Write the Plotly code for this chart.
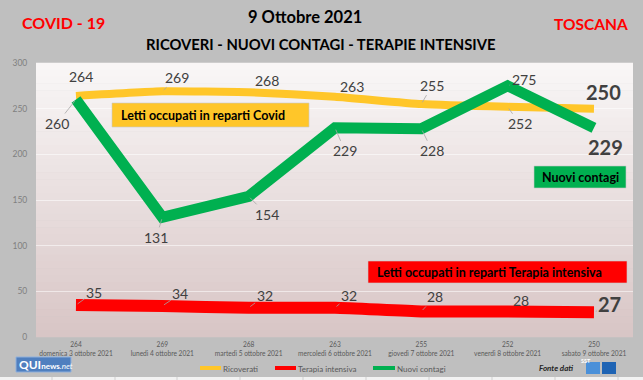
import plotly.graph_objects as go

# ---------------- data ----------------
dates = ["domenica 3 ottobre 2021", "lunedì 4 ottobre 2021", "martedì 5 ottobre 2021",
         "mercoledì 6 ottobre 2021", "giovedì 7 ottobre 2021", "venerdì 8 ottobre 2021",
         "sabato 9 ottobre 2021"]
ricoverati = [264, 269, 268, 263, 255, 252, 250]
terapia_intensiva = [35, 34, 32, 32, 28, 28, 27]
nuovi_contagi = [260, 131, 154, 229, 228, 275, 229]
y_ticks = [0, 50, 100, 150, 200, 250, 300]

# label offsets (px) relative to each point: (dx, dy, leader)
lab_ric = [(5, -19, False), (15, -14, True), (18, -12, False), (17, -10, False),
           (11, -19, True), (12, 17, True), (10, -17, False)]
lab_con = [(-19, 24, True), (-6, 20, True), (18, 18, True), (10, 23, True),
           (11, 22, True), (16, -6, True), (12, 19, False)]
lab_ter = [(18, -13, True), (18, -12, True), (16, -12, True), (14, -12, True),
           (14, -15, True), (13, -11, False), (16, -8, True)]

# ---------------- geometry helpers ----------------
W, H = 643, 380
PL, PR, PT, PB = 36, 633, 63, 337


def fx(x):
    return (x - PL) / (PR - PL)


def fy(y):
    return (PB - y) / (PB - PT)


FONT = "Lato"
YEL, RED, GRN = "#ffc629", "#ff0000", "#00b050"
xs = list(range(len(dates)))

fig = go.Figure()
fig.add_trace(go.Scatter(x=xs, y=ricoverati, mode="lines", name="Ricoverati",
                         line=dict(color=YEL, width=8, shape="spline", smoothing=0.4)))
fig.add_trace(go.Scatter(x=xs, y=terapia_intensiva, mode="lines", name="Terapia intensiva",
                         line=dict(color=RED, width=12, shape="spline", smoothing=0.5)))
fig.add_trace(go.Scatter(x=xs, y=nuovi_contagi, mode="lines", name="Nuovi contagi",
                         line=dict(color=GRN, width=11)))

shapes = []
ann = []

# gradient plot-area background
N = 40
top = (249, 247, 247)
bot = (216, 197, 197)
for i in range(N):
    t = (i + 0.5) / N
    c = tuple(round(top[k] + (bot[k] - top[k]) * t) for k in range(3))
    shapes.append(dict(type="rect", xref="paper", yref="paper", x0=0, x1=1,
                       y0=1 - (i + 1) / N - 0.001, y1=1 - i / N + 0.001,
                       fillcolor="rgb(%d,%d,%d)" % c, line=dict(width=0), layer="below"))

# data labels
def add_labels(vals, offs, big_last):
    for i, (v, (dx, dy, lead)) in enumerate(zip(vals, offs)):
        last = big_last and i == len(vals) - 1
        ann.append(dict(x=i, y=v, xref="x", yref="y", text=str(v),
                        showarrow=True, ax=dx, ay=dy, axref="pixel", ayref="pixel",
                        arrowhead=0, arrowwidth=0.8, standoff=2,
                        arrowcolor="#a6a6a6" if lead else "rgba(0,0,0,0)",
                        font=dict(family=FONT, size=20 if last else 14,
                                  color="#404040", weight="bold" if last else "normal")))


add_labels(ricoverati, lab_ric, True)
add_labels(nuovi_contagi, lab_con, True)
add_labels(terapia_intensiva, lab_ter, True)

# boxed captions
def caption(x0, x1, y0, y1, color, text, tx=None, anchor="center"):
    shapes.append(dict(type="rect", xref="paper", yref="paper", x0=fx(x0), x1=fx(x1),
                       y0=fy(y1), y1=fy(y0), fillcolor=color,
                       line=dict(color="rgba(200,200,200,0.6)", width=1), layer="above"))
    ann.append(dict(x=fx(tx if tx is not None else (x0 + x1) / 2), y=fy((y0 + y1) / 2),
                    xref="paper", yref="paper", text=text, showarrow=False,
                    xanchor=anchor, yanchor="middle",
                    font=dict(family=FONT, size=12.5, color="#000000", weight="bold")))


caption(112, 309, 103, 127, YEL, "Letti occupati in reparti Covid", tx=119, anchor="left")
caption(534, 626, 166, 188, GRN, "Nuovi contagi")
caption(368, 627, 261, 283, RED, "Letti occupati in reparti Terapia intensiva", tx=375, anchor="left")

# titles
def text(x, y, s, size, color, weight="bold", anchor="center", style="normal", family=FONT):
    ann.append(dict(x=fx(x), y=fy(y), xref="paper", yref="paper", text=s, showarrow=False,
                    xanchor=anchor, yanchor="middle",
                    font=dict(family=family, size=size, color=color, weight=weight, style=style)))


text(305, 17, "9 Ottobre 2021", 16.5, "#000000")
text(321, 44, "RICOVERI - NUOVI CONTAGI - TERAPIE INTENSIVE", 14.8, "#000000")
text(63, 22, "COVID - 19", 16, "#ff0000")
text(591, 24, "TOSCANA", 15.5, "#ff0000")

# custom legend
leg = [(200, 221, YEL, "Ricoverati"), (275, 296, RED, "Terapia intensiva"),
       (373, 395, GRN, "Nuovi contagi")]
for x0, x1, c, s in leg:
    shapes.append(dict(type="line", xref="paper", yref="paper", x0=fx(x0), x1=fx(x1),
                       y0=fy(368), y1=fy(368), line=dict(color=c, width=4)))
    text(x1, 369, s, 8, "#595959", weight="normal", anchor="left")

# QUInews logo
shapes.append(dict(type="rect", xref="paper", yref="paper", x0=fx(16), x1=fx(71),
                   y0=fy(372), y1=fy(357), fillcolor="#4f7fbf",
                   line=dict(color="#8fb0dc", width=1)))
ann.append(dict(x=fx(17), y=fy(364.5), xref="paper", yref="paper", showarrow=False,
                xanchor="left", yanchor="middle",
                text="<b>QUI</b><span style='font-size:8px'><b>news</b><i>.net</i></span>",
                font=dict(family=FONT, size=12, color="#ffffff")))

# Fonte dati + SST logo
text(575, 368, "Fonte dati", 8, "#262626", weight="bold", anchor="right", style="italic")
shapes.append(dict(type="rect", xref="paper", yref="paper", x0=fx(586), x1=fx(600),
                   y0=fy(374), y1=fy(362), fillcolor="#4a90d9", line=dict(width=0)))
shapes.append(dict(type="rect", xref="paper", yref="paper", x0=fx(602), x1=fx(616),
                   y0=fy(374), y1=fy(362), fillcolor="#1f64b4", line=dict(width=0)))
ann.append(dict(x=fx(593), y=fy(366), xref="paper", yref="paper", showarrow=False,
                text="<b>SST</b>", font=dict(family=FONT, size=5.5, color="#ffffff")))

# bottom spreadsheet strip
shapes.append(dict(type="rect", xref="paper", yref="paper", x0=fx(0), x1=fx(643),
                   y0=fy(381), y1=fy(377), fillcolor="#f2f2f2", line=dict(width=0)))
for gx in [52, 115, 177, 240, 303, 366, 429, 492, 555, 618]:
    shapes.append(dict(type="line", xref="paper", yref="paper", x0=fx(gx), x1=fx(gx),
                       y0=fy(381), y1=fy(377), line=dict(color="#d0d0d0", width=1)))

fig.update_layout(
    template="none",
    width=W, height=H,
    margin=dict(l=PL, r=W - PR, t=PT, b=H - PB, autoexpand=False),
    paper_bgcolor="#bfbfbf", plot_bgcolor="rgba(0,0,0,0)",
    showlegend=False,
    shapes=shapes, annotations=ann,
    font=dict(family=FONT),
    xaxis=dict(range=[-0.463, 6.452], tickvals=xs, automargin=False,
               ticktext=["%d<br>%s" % (r, d) for r, d in zip(ricoverati, dates)],
               tickfont=dict(family=FONT, size=6.6, color="#595959"),
               showgrid=False, zeroline=False, showline=False,
               ticks="outside", ticklen=1, tickcolor="rgba(0,0,0,0)", fixedrange=True),
    yaxis=dict(range=[0, 300], tickvals=y_ticks, automargin=False,
               tickfont=dict(family=FONT, size=8.5, color="#7f7f7f"),
               showgrid=True, gridcolor="rgba(255,255,255,0.55)", gridwidth=1,
               zeroline=False, showline=False,
               ticks="outside", ticklen=6, tickcolor="rgba(0,0,0,0)", fixedrange=True),
)

fig.write_html("out.html", config={"displayModeBar": False},
               post_script="document.body.style.margin='0';document.body.style.overflow='hidden';")
